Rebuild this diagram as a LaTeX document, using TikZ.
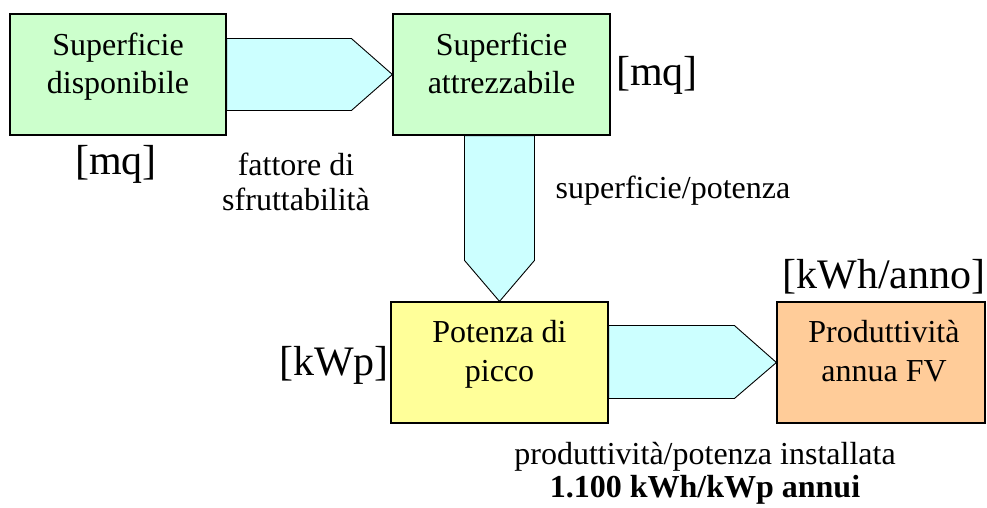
\documentclass[tikz,border=0pt]{standalone}
\usepackage{fontspec}
\setmainfont{Liberation Serif}
\definecolor{boxgreen}{HTML}{CCFFCC}
\definecolor{boxyellow}{HTML}{FFFF99}
\definecolor{boxorange}{HTML}{FFCC99}
\definecolor{flowcyan}{HTML}{CCFFFF}
\begin{document}
\begin{tikzpicture}[x=1pt,y=-1pt,
		box/.style={draw,line width=1.2pt,minimum height=121pt,inner sep=0pt},
		boxtext/.style={anchor=north,inner sep=0pt,align=center,font=\fontsize{32}{38.5}\selectfont},
		unit/.style={anchor=base,inner sep=0pt,font=\fontsize{42}{48}\selectfont},
		note/.style={anchor=north,inner sep=0pt,align=center,font=\fontsize{32}{35}\selectfont},
		flow/.style={draw,fill=flowcyan,line width=0.9pt,line join=miter}]
		\useasboundingbox (0,0) rectangle (987,507);
		% \draw[step=50,gray!30] (0,0) grid (987,507);
		\node[box,fill=boxgreen,minimum width=216pt] (disp) at (118,74.5){};
		\node[box,fill=boxgreen,minimum width=217pt] (attr) at (501.5,74.5){};
		\node[box,fill=boxyellow,minimum width=217pt] (pot) at (499.5,362.5){};
		\node[box,fill=boxorange,minimum width=208pt] (prod) at (881,362.5){};
		\draw[flow] ([yshift=36pt]disp.east) -- ([xshift=-41pt,yshift=36pt]attr.west) -- (attr.west) -- ([xshift=-41pt,yshift=-36pt]attr.west) -- ([yshift=-36pt]disp.east) -- cycle;
		\draw[flow] ([xshift=-35pt]pot.north |- attr.south) -- ([xshift=-35pt,yshift=41pt]pot.north) -- (pot.north) -- ([xshift=35pt,yshift=41pt]pot.north) -- ([xshift=35pt]pot.north |- attr.south) -- cycle;
		\draw[flow] ([yshift=37pt]pot.east) -- ([xshift=-42pt,yshift=37pt]prod.west) -- (prod.west) -- ([xshift=-42pt,yshift=-36pt]prod.west) -- ([yshift=-36pt]pot.east) -- cycle;
		\draw[box] (attr.south west) rectangle (attr.north east);
		\draw[box] (pot.south west) rectangle (pot.north east);
		\draw[box] (prod.south west) rectangle (prod.north east);
		\draw[box] (disp.south west) rectangle (disp.north east);
		\node[boxtext] (dispT) at ([yshift=-19pt]disp.north){Superficie\\disponibile};
		\node[boxtext] (attrT) at ([yshift=-19pt]attr.north){Superficie\\attrezzabile};
		\node[boxtext] (potT) at ([yshift=-19pt]pot.north){Potenza di\\picco};
		\node[boxtext] (prodT) at ([xshift=3pt,yshift=-19pt]prod.north){Produttività\\annua FV};
		\node[unit] (mqA) at (116,174){[mq]};
		\node[unit] (mqB) at (657,85){[mq]};
		\node[unit] (kwp) at (334,375){[kWp]};
		\node[unit] (kwh) at (884,288){[kWh/anno]};
		\node[note] (fatt) at (296,153){fattore di\\sfruttabilità};
		\node[note] (supot) at (673,176){superficie/potenza};
		\node[note,font=\fontsize{32}{33.5}\selectfont] (resa) at (705,442){produttività/potenza installata\\\textbf{1.100 kWh/kWp annui}};
\end{tikzpicture}
\end{document}
